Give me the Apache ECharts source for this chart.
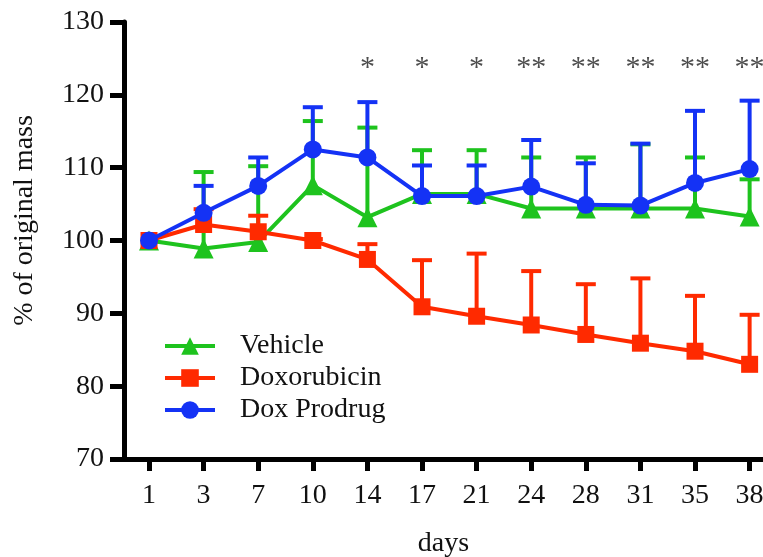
<!DOCTYPE html>
<html><head><meta charset="utf-8">
<script src="https://cdn.jsdelivr.net/npm/echarts@6/dist/echarts.min.js"></script>
<style>html,body{margin:0;padding:0;background:#fff}#c{width:763px;height:557px}</style>
</head><body><div id="c"></div>
<script>
const days = ['1','3','7','10','14','17','21','24','28','31','35','38'];
const vehicle      = [100, 98.9, 99.8, 107.6, 103.2, 106.4, 106.4, 104.4, 104.4, 104.4, 104.4, 103.3];
const vehicleErr   = [100, 109.4, 110.2, 116.4, 115.5, 112.4, 112.4, 111.4, 111.4, 113.2, 111.4, 108.4];
const doxo         = [100, 102.2, 101.2, 100.0, 97.4, 90.9, 89.6, 88.4, 87.1, 85.9, 84.8, 83.0];
const doxoErr      = [100, 104.3, 103.4, 100.2, 99.5, 97.3, 98.2, 95.8, 94.0, 94.8, 92.4, 89.8];
const prodrug      = [100, 103.8, 107.5, 112.5, 111.4, 106.1, 106.1, 107.4, 104.9, 104.8, 107.9, 109.8];
const prodrugErr   = [100, 107.5, 111.4, 118.3, 119.0, 110.3, 110.3, 113.8, 110.6, 113.3, 117.8, 119.2];
const sig          = ['', '', '', '', '*', '*', '*', '**', '**', '**', '**', '**'];
const yTicks = [70, 80, 90, 100, 110, 120, 130];

const GREEN = '#1ec31e', RED = '#ff2a00', BLUE = '#1432f5';
const FONT = 'Liberation Serif';
const idx = days.map((d, i) => i);

function errSeries(name, vals, tops, color, z) {
  return {
    type: 'custom', name: name, z: z,
    data: vals.map((v, i) => [i, v, tops[i]]),
    renderItem: function (params, api) {
      const p0 = api.coord([api.value(0), api.value(1)]);
      const p1 = api.coord([api.value(0), api.value(2)]);
      if (Math.abs(p0[1] - p1[1]) < 1) return null;
      const w = 10;
      return {
        type: 'group',
        children: [
          { type: 'line', shape: { x1: p0[0], y1: p0[1], x2: p1[0], y2: p1[1] }, style: { stroke: color, lineWidth: 4 } },
          { type: 'line', shape: { x1: p1[0] - w, y1: p1[1], x2: p1[0] + w, y2: p1[1] }, style: { stroke: color, lineWidth: 4 } }
        ]
      };
    },
    silent: true
  };
}

const chart = echarts.init(document.getElementById('c'), null, { renderer: 'canvas' });
chart.setOption({
  animation: false,
  textStyle: { fontFamily: FONT },
  grid: { left: 124, top: 22, right: 0, bottom: 98, outerBoundsMode: 'none', containLabel: false },
  legend: {
    orient: 'vertical', left: 158, top: 327, itemGap: 4,
    itemWidth: 50, itemHeight: 22,
    lineStyle: { width: 4 },
    data: ['Vehicle', 'Doxorubicin', 'Dox Prodrug'],
    textStyle: { fontFamily: FONT, fontSize: 28, color: '#111', padding: [0, 0, 0, 20] }
  },
  xAxis: {
    type: 'value', min: -0.458, max: 11.245,
    name: 'days', nameLocation: 'middle', nameGap: 71,
    nameTextStyle: { fontFamily: FONT, fontSize: 28, color: '#111' },
    axisLine: { onZero: false, lineStyle: { color: '#000', width: 5 } },
    axisTick: { customValues: idx, length: 12, lineStyle: { color: '#000', width: 5 } },
    axisLabel: { customValues: idx, fontFamily: FONT, fontSize: 28, color: '#111', margin: 23,
      formatter: v => days[Math.round(v)] },
    splitLine: { show: false }
  },
  yAxis: {
    type: 'value', min: yTicks[0], max: yTicks[yTicks.length - 1], interval: 10,
    name: '% of original mass', nameLocation: 'middle', nameGap: 85, nameRotate: 90,
    nameTextStyle: { fontFamily: FONT, fontSize: 28, color: '#111', padding: [0, 0, 0, 40] },
    axisLine: { show: true, onZero: false, lineStyle: { color: '#000', width: 5 } },
    axisTick: { show: true, length: 14, lineStyle: { color: '#000', width: 5 } },
    axisLabel: { fontFamily: FONT, fontSize: 28, color: '#111', margin: 20 },
    splitLine: { show: false }
  },
  series: [
    errSeries('vErr', vehicle, vehicleErr, GREEN, 2),
    errSeries('dErr', doxo, doxoErr, RED, 3),
    errSeries('pErr', prodrug, prodrugErr, BLUE, 4),
    { type: 'line', name: 'Vehicle', data: vehicle.map((v, i) => [i, v]), z: 2, symbol: 'triangle', symbolSize: 20,
      lineStyle: { color: GREEN, width: 4 }, itemStyle: { color: GREEN } },
    { type: 'line', name: 'Doxorubicin', data: doxo.map((v, i) => [i, v]), z: 3, symbol: 'rect', symbolSize: 17,
      lineStyle: { color: RED, width: 4 }, itemStyle: { color: RED } },
    { type: 'line', name: 'Dox Prodrug', data: prodrug.map((v, i) => [i, v]), z: 4, symbol: 'circle', symbolSize: 18,
      lineStyle: { color: BLUE, width: 4 }, itemStyle: { color: BLUE } },
    { type: 'scatter', name: 'sig', symbolSize: 0, silent: true,
      data: sig.map((s, i) => ({ value: [i, 123.6], label: { show: s !== '', formatter: s } })),
      label: { position: 'inside', fontFamily: FONT, fontSize: 30, color: '#222' } }
  ]
});
</script></body></html>
